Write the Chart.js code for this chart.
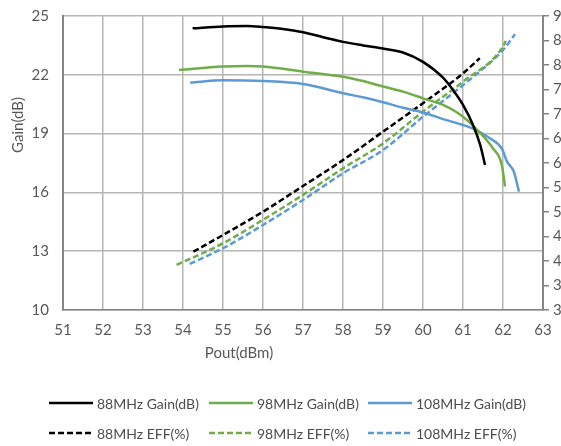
<!DOCTYPE html>
<html>
<head>
<meta charset="utf-8">
<title>Gain / EFF vs Pout</title>
<script src="https://cdn.jsdelivr.net/npm/chart.js@4"></script>
<style>
    html, body { margin: 0; padding: 0; background: #fff; overflow: hidden; }
    #wrap { position: relative; width: 573px; height: 446px; }
    #legend {
        position: absolute; left: 49px; top: 388px;
        display: grid; grid-template-columns: 160px 159px 200px;
        font: 14px Lato, sans-serif; color: #4d4d4d;
    }
    .item { display: flex; align-items: center; height: 30px; white-space: nowrap; }
    .item svg { margin-right: 4px; }
</style>
</head>
<body>
<div id="wrap">
    <canvas id="chart" width="573" height="446"></canvas>
    <div id="legend"></div>
</div>
<script>
// Pout (dBm) and values
const gain88Pout = [54.24, 55, 55.6, 56, 56.5, 57, 57.5, 58, 58.5, 59, 59.5, 60, 60.5, 60.75, 61, 61.25, 61.43, 61.55];
const gain88 = [24.37, 24.47, 24.49, 24.44, 24.34, 24.17, 23.92, 23.68, 23.5, 23.34, 23.14, 22.66, 21.85, 21.22, 20.46, 19.44, 18.42, 17.4];

const gain98Pout = [53.9, 55, 55.6, 56, 57, 58, 58.5, 59, 59.5, 60, 60.5, 61, 61.4, 61.75, 61.97, 62.05];
const gain98 = [22.24, 22.42, 22.45, 22.42, 22.16, 21.9, 21.68, 21.4, 21.14, 20.8, 20.46, 19.86, 19.09, 18.24, 17.4, 16.3];

const gain108Pout = [54.18, 55, 56, 57, 58, 58.5, 59, 59.5, 60, 60.5, 61, 61.33, 61.67, 61.97, 62.1, 62.27, 62.4];
const gain108 = [21.6, 21.72, 21.68, 21.53, 21.06, 20.85, 20.6, 20.32, 20.08, 19.74, 19.44, 19.18, 18.76, 18.24, 17.57, 17.06, 16.04];

const eff88Pout = [54.26, 55, 56, 57, 58, 59, 60, 61, 61.42];
const eff88 = [41.9, 45.3, 50.06, 55.3, 60.6, 66.4, 72.2, 78.3, 81.4];

const eff98Pout = [53.84, 55, 56, 57, 58, 59, 60, 61, 62, 62.07];
const eff98 = [39.2, 43.6, 48.4, 53.5, 58.9, 64, 70.5, 76.6, 83.7, 84.9];

const eff108Pout = [54.17, 55, 56, 57, 58, 59, 60, 61, 62, 62.3];
const eff108 = [39.4, 42.6, 47.35, 52.45, 57.9, 62.65, 69.45, 75.9, 83.06, 86.3];

const labels = ['88MHz Gain(dB)', '98MHz Gain(dB)', '108MHz Gain(dB)', '88MHz EFF(%)', '98MHz EFF(%)', '108MHz EFF(%)'];

const BLACK = '#000000';
const GREEN = '#70ad47';
const BLUE = '#5b9bd5';
const TEXT = '#595959';
const GRID = '#b5b5b5';
const AXIS = '#858585';
const DASH = [6, 3];

function points(xs, ys) {
    return xs.map((x, i) => ({ x: x, y: ys[i] }));
}

function line(label, xs, ys, color, dashed) {
    return {
        label: label,
        data: points(xs, ys),
        borderColor: color,
        backgroundColor: color,
        borderWidth: 2.5,
        borderDash: dashed ? DASH : [],
        pointRadius: 0,
        cubicInterpolationMode: 'monotone',
        yAxisID: dashed ? 'y2' : 'y'
    };
}

const datasets = [
    line(labels[0], gain88Pout, gain88, BLACK, false),
    line(labels[1], gain98Pout, gain98, GREEN, false),
    line(labels[2], gain108Pout, gain108, BLUE, false),
    line(labels[3], eff88Pout, eff88, BLACK, true),
    line(labels[4], eff98Pout, eff98, GREEN, true),
    line(labels[5], eff108Pout, eff108, BLUE, true)
];

const font = { family: 'Lato, sans-serif', size: 15 };

// Axis titles sit off-centre in the original, so draw them by hand
const axisTitles = {
    id: 'axisTitles',
    afterDraw(c) {
        const ctx = c.ctx;
        ctx.save();
        ctx.fillStyle = TEXT;
        ctx.font = '15px Lato, sans-serif';
        ctx.textAlign = 'center';
        ctx.textBaseline = 'middle';
        ctx.fillText('Pout(dBm)', 239, 353);
        ctx.translate(18, 125);
        ctx.rotate(-Math.PI / 2);
        ctx.fillText('Gain(dB)', 0, 0);
        ctx.restore();
    }
};

// let the tick labels overhang instead of pushing the plot area down
function fixVertical(width) {
    return s => {
        s.width = width;
        s.paddingTop = 0;
        s.paddingBottom = 0;
    };
}

const chart = new Chart(document.getElementById('chart').getContext('2d'), {
    type: 'line',
    data: { datasets: datasets },
    plugins: [axisTitles],
    options: {
        responsive: false,
        animation: false,
        layout: { padding: { top: 16, right: 0, bottom: 90, left: 0 } },
        plugins: { legend: { display: false }, tooltip: { enabled: false } },
        scales: {
            x: {
                type: 'linear', min: 51, max: 63,
                ticks: { stepSize: 1, color: TEXT, font: font, padding: 11 },
                grid: { color: GRID, lineWidth: 1.5, drawTicks: false },
                border: { color: AXIS, width: 1.5 },
                afterFit: s => { s.height = 46; }
            },
            y: {
                position: 'left', min: 10, max: 25,
                ticks: { stepSize: 3, color: TEXT, font: font, padding: 14 },
                grid: { color: GRID, lineWidth: 1.5, drawTicks: false },
                border: { color: AXIS, width: 2 },
                afterFit: fixVertical(63)
            },
            y2: {
                position: 'right', min: 30, max: 90,
                ticks: { stepSize: 5, color: TEXT, font: font, padding: 4 },
                grid: { drawOnChartArea: false, drawTicks: true, tickLength: 6, color: AXIS, lineWidth: 1.5 },
                border: { color: AXIS, width: 2 },
                afterFit: fixVertical(30)
            }
        }
    }
});

// Legend as HTML so both rows line up in columns
const legend = document.getElementById('legend');
chart.data.datasets.forEach(ds => {
    const item = document.createElement('div');
    item.className = 'item';
    const dash = ds.borderDash.length ? `stroke-dasharray="${ds.borderDash.join(' ')}"` : '';
    item.innerHTML = `
        <svg width="44" height="4"><line x1="0" y1="2" x2="44" y2="2" stroke="${ds.borderColor}" stroke-width="2.5" ${dash}/></svg>
        <span>${ds.label}</span>
    `;
    legend.appendChild(item);
});
</script>
</body>
</html>
